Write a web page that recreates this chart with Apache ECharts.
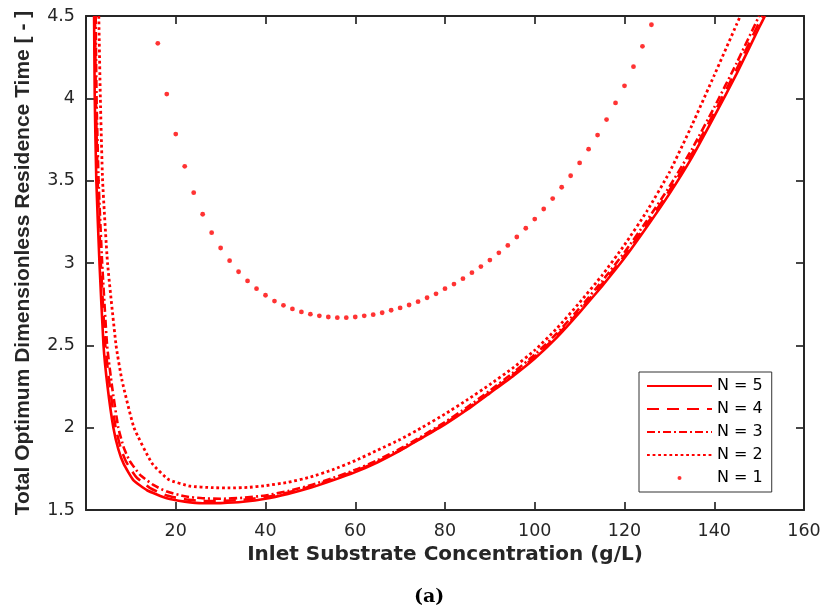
<!DOCTYPE html>
<html><head><meta charset="utf-8">
<script src="https://cdn.jsdelivr.net/npm/echarts@6/dist/echarts.min.js"></script>
<style>html,body{margin:0;padding:0;background:#fff}#chart{width:825px;height:615px}</style>
</head><body><div id="chart"></div>
<script>
const seriesNames = ['N = 5', 'N = 4', 'N = 3', 'N = 2', 'N = 1'];
const xTitle = 'Inlet Substrate Concentration (g/L)';
const yTitle = 'Total Optimum Dimensionless Residence Time [ - ]';
const caption = '(a)';

const x5 = [1.8,1.95,2.3,3.0,3.9,4.8,6.1,7.2,8.4,10.6,13.6,18,22,26,30,35,40,45,50,55,60,65,70,75,80,85,90,95,100,105,110,115,120,125,130,135,140,145,150,151.3];
const y5 = [4.5,4.0,3.5,3.0,2.5,2.25,2.0,1.87,1.78,1.68,1.62,1.571,1.551,1.541,1.542,1.550,1.568,1.598,1.635,1.680,1.73,1.79,1.86,1.94,2.02,2.11,2.21,2.31,2.42,2.55,2.70,2.86,3.03,3.22,3.42,3.64,3.89,4.15,4.43,4.5];

const x4 = [2.0,2.2,2.6,3.3,4.3,5.3,6.6,7.8,9.0,11.2,14.2,18,22,26,30,35,40,45,50,55,60,65,70,75,80,85,90,95,100,105,110,115,120,125,130,135,140,145,150,150.8];
const y4 = [4.5,4.0,3.5,3.0,2.5,2.25,2.0,1.87,1.79,1.70,1.635,1.588,1.565,1.555,1.555,1.562,1.578,1.606,1.642,1.686,1.736,1.795,1.864,1.943,2.025,2.115,2.215,2.318,2.43,2.56,2.71,2.873,3.045,3.237,3.44,3.662,3.913,4.178,4.46,4.5];

const x3 = [2.15,2.35,2.8,3.6,4.7,5.8,7.2,8.4,9.7,12,15,18,22,26,30,35,40,45,50,55,60,65,70,75,80,85,90,95,100,105,110,115,120,125,130,135,140,145,150];
const y3 = [4.5,4.0,3.5,3.0,2.5,2.25,2.0,1.88,1.80,1.715,1.652,1.612,1.583,1.571,1.568,1.574,1.588,1.615,1.650,1.694,1.744,1.803,1.872,1.951,2.034,2.125,2.225,2.33,2.443,2.575,2.726,2.89,3.065,3.258,3.463,3.69,3.945,4.215,4.5];

const x2 = [2.85,3.2,3.7,4.8,6.7,8.0,10.7,14.7,18.4,23.2,28,32,36,40,45,50,55,60,65,70,75,80,85,90,95,100,105,110,115,120,125,130,135,140,145,145.8];
const y2 = [4.5,4.0,3.5,3.0,2.5,2.29,2.0,1.784,1.685,1.645,1.636,1.634,1.637,1.648,1.668,1.700,1.745,1.80,1.864,1.928,2.003,2.083,2.17,2.262,2.36,2.47,2.605,2.76,2.925,3.11,3.315,3.55,3.835,4.14,4.45,4.5];

const x1 = [16,18,20,22,24,26,28,30,32,34,36,38,40,42,44,46,48,50,52,54,56,58,60,62,64,66,68,70,72,74,76,78,80,82,84,86,88,90,92,94,96,98,100,102,104,106,108,110,112,114,116,118,120,122,124,126];
const y1 = [4.334,4.026,3.783,3.587,3.427,3.296,3.184,3.091,3.014,2.947,2.891,2.844,2.804,2.769,2.743,2.721,2.703,2.689,2.679,2.672,2.668,2.668,2.672,2.679,2.686,2.698,2.713,2.727,2.745,2.765,2.789,2.813,2.844,2.872,2.905,2.941,2.978,3.018,3.062,3.107,3.158,3.211,3.267,3.328,3.391,3.460,3.530,3.608,3.691,3.777,3.871,3.972,4.076,4.192,4.316,4.447];

const xMin = 0, xMax = 160, xStep = 20;
const yMin = 1.5, yMax = 4.5, yStep = 0.5;

function pairs(xs, ys) { return xs.map((x, i) => [x, ys[i]]); }

const RED = '#ff0000';
const AX = '#262626';
const axisCommon = {
  type: 'value',
  axisLine: { show: true, onZero: false, lineStyle: { color: AX, width: 2 } },
  axisTick: { show: true, inside: true, length: 8, lineStyle: { color: AX, width: 1.7 } },
  splitLine: { show: false }
};

const chart = echarts.init(document.getElementById('chart'), null, { renderer: 'canvas' });
function lineSeries(name, data, dash, width) {
  return {
    name, type: 'line', data, xAxisIndex: 0, yAxisIndex: 0,
    showSymbol: false, symbol: 'circle', smooth: 0.15,
    lineStyle: { color: RED, width: width, type: dash, cap: 'butt' },
    itemStyle: { color: 'rgba(255,0,0,0)' },
    emphasis: { disabled: true }, z: 3
  };
}
chart.setOption({
  animation: false,
  backgroundColor: '#fff',
  grid: { left: 86, right: 21, top: 16, bottom: 105, containLabel: false },
  xAxis: [
    Object.assign({}, axisCommon, {
      position: 'bottom', min: xMin, max: xMax, interval: xStep,
      name: xTitle, nameLocation: 'middle', nameGap: 33,
      nameTextStyle: { fontFamily: 'DejaVu Sans', fontWeight: 'bold', fontSize: 20, color: AX },
      axisLabel: { showMinLabel: false, margin: 12, color: AX, fontFamily: 'DejaVu Sans', fontSize: 17.5 }
    }),
    Object.assign({}, axisCommon, {
      position: 'top', min: xMin, max: xMax, interval: xStep, axisLabel: { show: false }
    })
  ],
  yAxis: [
    Object.assign({}, axisCommon, {
      position: 'left', min: yMin, max: yMax, interval: yStep,
      name: yTitle, nameLocation: 'middle', nameGap: 52, nameRotate: 90,
      nameTextStyle: { fontFamily: 'Liberation Sans', fontWeight: 'bold', fontSize: 21, color: AX },
      axisLabel: { margin: 11, color: AX, fontFamily: 'DejaVu Sans', fontSize: 17.5 }
    }),
    Object.assign({}, axisCommon, {
      position: 'right', min: yMin, max: yMax, interval: yStep, axisLabel: { show: false }
    })
  ],
  legend: {
    orient: 'vertical', left: 639, top: 372,
    padding: [6, 9, 6, 7], itemGap: 7, itemWidth: 65, itemHeight: 4,
    backgroundColor: '#fff', borderColor: '#333', borderWidth: 1, borderRadius: 0,
    textStyle: { fontFamily: 'DejaVu Sans', fontSize: 16, color: '#000' },
    data: seriesNames
  },
  graphic: [{
    type: 'text', left: 414, top: 588,
    style: { text: caption, fontFamily: 'DejaVu Serif', fontWeight: 'bold', fontSize: 19, fill: '#000' }
  }],
  series: [
    lineSeries(seriesNames[0], pairs(x5, y5), 'solid', 2.6),
    lineSeries(seriesNames[1], pairs(x4, y4), [12, 8], 2.6),
    lineSeries(seriesNames[2], pairs(x3, y3), [8, 3, 2, 3], 2.6),
    lineSeries(seriesNames[3], pairs(x2, y2), [2.8, 2.8], 2.8),
    {
      name: seriesNames[4], type: 'scatter', data: pairs(x1, y1),
      symbol: 'circle', symbolSize: 4.8, itemStyle: { color: RED },
      emphasis: { disabled: true }, z: 3
    }
  ]
});
</script></body></html>
